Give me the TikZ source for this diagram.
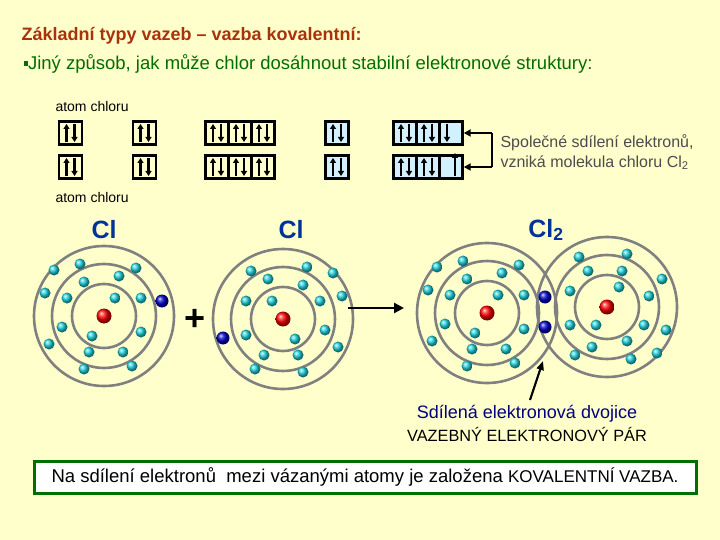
\documentclass[tikz,border=0pt]{standalone}
\usepackage{fontspec}
\setmainfont{Liberation Sans}
\usetikzlibrary{arrows.meta}
\definecolor{bg}{RGB}{255,255,204}
\definecolor{titlered}{RGB}{170,50,10}
\definecolor{subgreen}{RGB}{0,110,0}
\definecolor{clblue}{RGB}{0,51,153}
\definecolor{shell}{RGB}{128,128,128}
\definecolor{elec}{RGB}{30,210,220}
\definecolor{boxblue}{RGB}{210,240,255}
\tikzset{
  orb/.style={draw=black, line width=2.4pt, minimum width=23pt, minimum height=23pt, inner sep=0pt},
  shellline/.style={draw=shell, line width=2.6pt},
  el/.style={ball color=elec, draw=none},
  shared/.style={ball color=blue!80!black, draw=none},
  nucleus/.style={ball color=red, draw=none},
  spin/.style={line width=2.2pt, -{Triangle[length=5pt,width=6pt]}},
  cl/.style={text=clblue, font=\fontsize{25}{25}\selectfont\bfseries}
}
\newcommand{\pairup}[1]{{%
  \draw[spin] ([xshift=-4pt,yshift=-9pt]#1.center) -- ([xshift=-4pt,yshift=9pt]#1.center);
  \draw[spin] ([xshift=4pt,yshift=9pt]#1.center) -- ([xshift=4pt,yshift=-9pt]#1.center);}}
\newcommand{\atomshells}[2]{%
  \foreach \r in {32,52,70} \draw[shellline] (#1,#2) circle (\r);
  \shade[nucleus] (#1,#2) circle (7.5);}
\begin{document}
\begin{tikzpicture}[x=1pt,y=-1pt]
  \fill[bg] (0,0) rectangle (720,540);
  \useasboundingbox (0,0) rectangle (720,540);

  % headings
  \node[anchor=west, text=titlered, font=\fontsize{18}{18}\selectfont\bfseries] (title) at (18,36) {Základní typy vazeb – vazba kovalentní:};
  \node[anchor=west, text=subgreen, font=\fontsize{18.5}{18.5}\selectfont] (sub) at (20,64) {\raisebox{4pt}{\rule{4.5pt}{4.5pt}}Jiný způsob, jak může chlor dosáhnout stabilní elektronové struktury:};
  \node[anchor=west, font=\fontsize{14}{14}\selectfont] (atomA) at (52,106) {atom chloru};
  \node[anchor=west, font=\fontsize{14}{14}\selectfont] (atomB) at (52,197) {atom chloru};

  % orbital boxes
  \foreach \row/\y in {a/133,b/167} {
    \node[orb] (s1\row) at (70.5,\y) {};
    \node[orb] (s2\row) at (144.5,\y) {};
    \foreach \i/\x in {1/217,2/240,3/263}
      \node[orb] (p2\i\row) at (\x,\y) {};
    \node[orb, fill=boxblue] (s3\row) at (337,\y) {};
    \foreach \i/\x in {1/405,2/428,3/451}
      \node[orb, fill=boxblue] (p3\i\row) at (\x,\y) {};
    \foreach \n in {s1,s2,p21,p22,p23,s3,p31,p32}
      {\pairup{\n\row}}
  }
  \draw[spin] ([xshift=-4pt,yshift=9pt]p33a.center) -- ([xshift=-4pt,yshift=-9pt]p33a.center);
  \draw[spin] ([xshift=4pt,yshift=-9pt]p33b.center) -- ([xshift=4pt,yshift=14pt]p33b.center);
  \coordinate (ca) at (492,133);
  \coordinate (cb) at (492,167);
  \draw[line width=2.4pt, -{Triangle[length=7pt,width=7pt]}] (ca) -- (p33a.east);
  \draw[line width=2.4pt, -{Triangle[length=7pt,width=7pt]}] (cb) -- (p33b.east);
  \draw[line width=2.4pt] (ca) -- (cb);
  \node[anchor=west, align=left, text=black!70, font=\fontsize{16}{20}\selectfont] (note) at (497,152)
    {Společné sdílení elektronů,\\vzniká molekula chloru Cl\textsubscript{2}};

  % atoms
  \node[cl] (clA) at (104,230) {Cl};
  \node[cl] (clB) at (291,230) {Cl};
  \node[cl] (clC) at (546,230) {Cl\textsubscript{2}};
  \atomshells{104}{316}
  \atomshells{283}{319}
  \atomshells{487}{313}
  \atomshells{607}{307}
  \foreach \dx/\dy in {11/-18,-12/20,-20/-34,15/-40,-37/-18,37/-18,-42/11,37/16,-15/36,19/36,
                       -24/-52,32/-48,-59/-23,-55/28,-20/53,28/50,-50/-46} {
    \shade[el] (104+\dx,316+\dy) circle (5.5);
    \shade[el] (283-\dx,319+\dy) circle (5.5);
    \shade[el] (487+\dx,313+\dy) circle (5.5);
    \shade[el] (607-\dx,307-\dy) circle (5.5);
  }
  \shade[shared] (162,301) circle (6.5);
  \shade[shared] (223,338) circle (6.5);
  \shade[shared] (545,297) circle (6.5);
  \shade[shared] (545,327) circle (6.5);

  \node[font=\fontsize{36}{36}\selectfont\bfseries] (plus) at (195,320) {+};
  \coordinate (r1) at (348,308);
  \coordinate (r2) at (404,308);
  \draw[line width=2.6pt, -{Triangle[length=10pt,width=10pt]}] (r1) -- (r2);

  % shared pair label
  \node[text=blue!50!black, font=\fontsize{18}{18}\selectfont] (pairlbl) at (527,414) {Sdílená elektronová dvojice};
  \node[font=\fontsize{16.3}{16.3}\selectfont] (pairlbl2) at (527,435) {VAZEBNÝ ELEKTRONOVÝ PÁR};
  \coordinate (ptip) at (543,361);
  \draw[line width=2.2pt, -{Triangle[length=9pt,width=7pt]}] (pairlbl.north) ++(3,-2) -- (ptip);

  % bottom box
  \node[draw=subgreen, double=subgreen, double distance=1pt, line width=1pt, fill=white,
        minimum width=662pt, minimum height=32pt, font=\fontsize{18.5}{18.5}\selectfont] (summary) at (365,477)
    {Na sdílení elektronů\ \ mezi vázanými atomy je založena {\fontsize{17}{17}\selectfont KOVALENTNÍ VAZBA.}};
\end{tikzpicture}
\end{document}
